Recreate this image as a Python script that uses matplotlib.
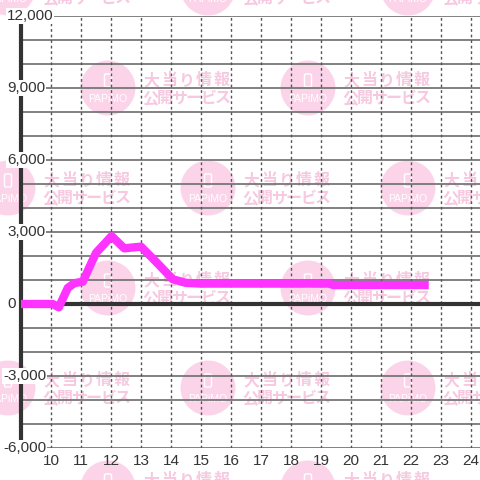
import numpy as np
import matplotlib.pyplot as plt
from matplotlib.patches import Circle, FancyBboxPatch
import matplotlib.transforms as mtransforms

plt.rcParams['font.family'] = ['Liberation Sans', 'DejaVu Sans']

# data
hours = [9.0, 10.06, 10.26, 10.56, 10.78, 11.06, 11.5, 12.02, 12.44, 13.0,
         13.5, 14.06, 14.5, 15.0, 19.3, 19.4, 22.59]
diff = [0, 0, -140, 670, 870, 930, 2130, 2830, 2320, 2390,
        1760, 1030, 880, 850, 850, 790, 790]

x_ticks = list(range(10, 25))
y_ticks = [-6000, -3000, 0, 3000, 6000, 9000, 12000]
y_labels = ["-6,000", "-3,000", "0", "3,000", "6,000", "9,000", "12,000"]

W = 480
fig = plt.figure(figsize=(4.8, 4.8), dpi=100)
fig.patch.set_facecolor("white")

# background watermark
pink = "#fcd4ea"
pink_txt = "#f7c9e1"
cjk = ["Noto Sans CJK JP", "DejaVu Sans"]
for j in range(6):
    cy = -12 + 100 * j
    xs = [108, 308] if j % 2 else [8, 208, 408]
    for cx in xs:
        fig.add_artist(Circle((cx / W, 1 - cy / W), 27.5 / W, transform=fig.transFigure,
                              color=pink, zorder=-2, lw=0))
        fig.add_artist(FancyBboxPatch(((cx - 3.5) / W, 1 - (cy - 1) / W), 7 / W, 13 / W,
                                      boxstyle="round,pad=0,rounding_size=0.003",
                                      transform=fig.transFigure, fc="none", ec="white",
                                      lw=1, zorder=-1))
        fig.text(cx / W, 1 - (cy + 11) / W, "PAPiMO", color="white", fontsize=7.5,
                 ha="center", va="center", zorder=-1)
        for i, ch in enumerate("大当り情報"):
            fig.text((cx + 43.7 + 17.4 * i) / W, 1 - (cy - 8) / W, ch, color=pink_txt,
                     fontsize=11.5, ha="center", va="center", fontweight="bold",
                     family=cjk, zorder=-1)
        for i, ch in enumerate("公開サービス"):
            fig.text((cx + 42.2 + 14.5 * i) / W, 1 - (cy + 10) / W, ch, color=pink_txt,
                     fontsize=11.5, ha="center", va="center", fontweight="bold",
                     family=cjk, zorder=-1)

ax = fig.add_axes([21 / W, 32 / W, 459 / W, 432 / W])
ax.set_facecolor("none")
ax.set_xlim(9, 9 + 459 / 30)
ax.set_ylim(-6000, 12000)

for s in ["top", "right", "bottom"]:
    ax.spines[s].set_visible(False)
ax.spines["left"].set_linewidth(3)
ax.spines["left"].set_color("#333333")

for y in range(-6000, 12001, 1000):
    ax.axhline(y, color="#777777", lw=1.3, zorder=1)
for x in x_ticks:
    ax.axvline(x, color="#555555", lw=1, ls=(0, (2, 2)), zorder=1)
ax.axhline(0, color="#333333", lw=3, zorder=2)

ax.plot(hours, diff, color="#ff33ff", lw=6, solid_joinstyle="round",
        solid_capstyle="butt", zorder=3, clip_on=False)

ax.set_xticks(x_ticks)
ax.set_xticklabels([str(x) for x in x_ticks])
ax.set_yticks([])
ax.tick_params(axis="x", length=0, pad=4, labelsize=11, labelcolor="#333333")

trans = mtransforms.blended_transform_factory(fig.transFigure, ax.transData)
for y, lab in zip(y_ticks, y_labels):
    x0 = 3 if lab.startswith("-") else 7
    ax.text(x0 / W, y, lab, transform=trans, ha="left", va="center", fontsize=11,
            color="#333333", zorder=5,
            bbox=dict(fc="white", ec="none", pad=0.5))

fig.savefig("out.png", dpi=100)
